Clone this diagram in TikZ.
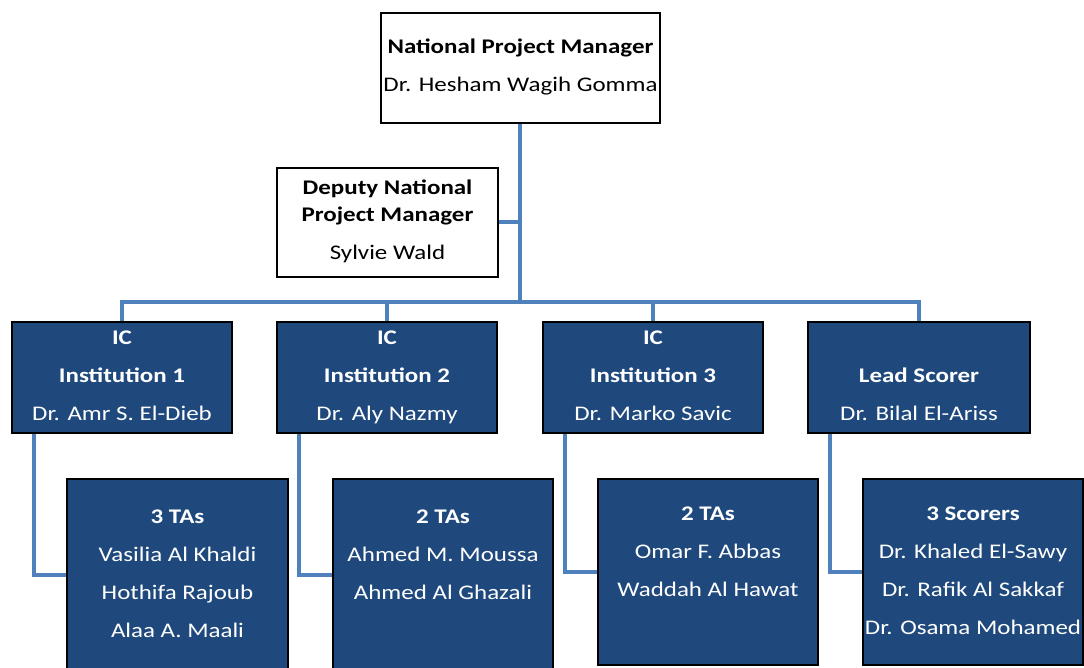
\documentclass[tikz,border=0pt]{standalone}
\usepackage{fontspec}
\setmainfont{Carlito}[FakeStretch=1.2]
\usetikzlibrary{backgrounds}
\definecolor{boxblue}{HTML}{1F497D}
\definecolor{lineblue}{HTML}{4F81BD}
\newcommand\st{\rule[-5pt]{0pt}{20pt}}
\tikzset{
  basebox/.style={rectangle, draw=black, line width=1.3pt, inner sep=0pt, align=center,
    font=\fontsize{20.8}{38}\selectfont},
  whitebox/.style={basebox, fill=white, text=black},
  bluebox/.style={basebox, fill=boxblue, text=white},
  conn/.style={draw=lineblue, line width=4pt}
}
\begin{document}
\begin{tikzpicture}[x=1pt,y=-1pt]
\useasboundingbox (0,0) rectangle (1084,668);
% boxes
\node[whitebox, minimum width=279, minimum height=110] (npm) at (520.5,68)
  {\st\textbf{National Project Manager}\\\st Dr. Hesham Wagih Gomma};
\node[whitebox, minimum width=221, minimum height=109] (dep) at (387.5,222.5)
  {\st\textbf{Deputy National}\\[-11pt]\st\textbf{Project Manager}\\\st Sylvie Wald};
\node[bluebox, minimum width=220, minimum height=111] (ic1) at (122,377.5)
  {\st\textbf{IC}\\\st\textbf{Institution 1}\\\st Dr. Amr S. El-Dieb};
\node[bluebox, minimum width=220, minimum height=111] (ic2) at (387,377.5)
  {\st\textbf{IC}\\\st\textbf{Institution 2}\\\st Dr. Aly Nazmy};
\node[bluebox, minimum width=220, minimum height=111] (ic3) at (653,377.5)
  {\st\textbf{IC}\\\st\textbf{Institution 3}\\\st Dr. Marko Savic};
\node[bluebox, minimum width=222, minimum height=111] (lead) at (919,377.5)
  {\st\\\st\textbf{Lead Scorer}\\\st Dr. Bilal El-Ariss};
\node[bluebox, minimum width=221, minimum height=192] (ta1) at (177.5,575)
  {\st\textbf{3 TAs}\\\st Vasilia Al Khaldi\\\st Hothifa Rajoub\\\st Alaa A. Maali};
\node[bluebox, minimum width=220, minimum height=192] (ta2) at (443,575)
  {\st\textbf{2 TAs}\\\st Ahmed M. Moussa\\\st Ahmed Al Ghazali\\\st};
\node[bluebox, minimum width=220, minimum height=186] (ta3) at (708,572)
  {\st\textbf{2 TAs}\\\st Omar F. Abbas\\\st Waddah Al Hawat\\\st};
\node[bluebox, minimum width=220, minimum height=186] (ta4) at (973,572)
  {\st\textbf{3 Scorers}\\\st Dr. Khaled El-Sawy\\\st Dr. Rafik Al Sakkaf\\\st Dr. Osama Mohamed};
% connectors
\coordinate (bus) at (520,302);
\begin{scope}[on background layer]
\draw[conn] (npm.south -| bus) -- (bus);
\draw[conn] (dep.east) -- (dep.east -| bus);
\draw[conn] (ic1.north) |- (bus) -| (lead.north);
\draw[conn] (ic2.north) -- (ic2.north |- bus);
\draw[conn] (ic3.north) -- (ic3.north |- bus);
\draw[conn] ([xshift=23pt]ic1.south west) |- (ta1.west);
\draw[conn] ([xshift=23pt]ic2.south west) |- (ta2.west);
\draw[conn] ([xshift=23pt]ic3.south west) |- (ta3.west);
\draw[conn] ([xshift=23pt]lead.south west) |- (ta4.west);
\end{scope}
\end{tikzpicture}
\end{document}
